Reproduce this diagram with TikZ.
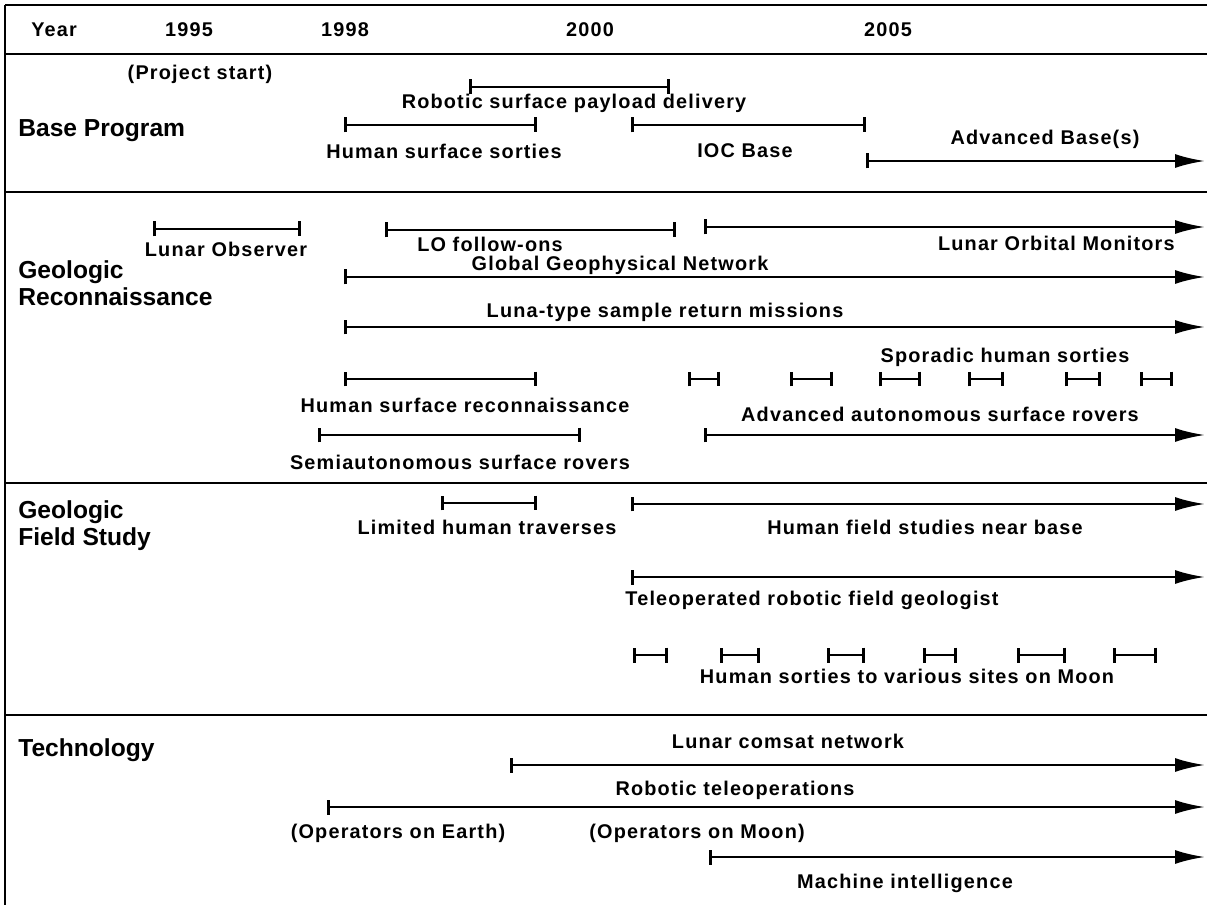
\documentclass[tikz,border=0pt]{standalone}
\usepackage{fontspec}
\setmainfont{Liberation Sans}
\newfontfamily\lblfont{Liberation Sans}[LetterSpace=6]
\newfontfamily\catfont{Liberation Sans}
\usepackage{tikz}
\usetikzlibrary{arrows.meta,positioning}

\begin{document}
\begin{tikzpicture}[x=0.02cm, y=-0.02cm]
    % Styles
    \tikzstyle{rule} = [line width=1.5pt]
    \tikzstyle{span} = [line width=1.5pt, {Bar[width=3mm]}-{Bar[width=3mm]}]
    \tikzstyle{ongoing} = [line width=1.5pt, {Bar[width=3mm]}-{Latex[length=6mm,width=2.8mm]}]
    \tikzstyle{lbl} = [font=\lblfont\bfseries\fontsize{11.3}{13}\selectfont, inner sep=0pt]
    \tikzstyle{cat} = [font=\catfont\bfseries\fontsize{14}{15.3}\selectfont, inner sep=0pt, anchor=west, align=left]
    \useasboundingbox (0,0) rectangle (1207,905);

    % Frame
    \draw[rule] (5,5) -- (1207,5);
    \draw[rule] (5,5) -- (5,905);
    \draw[rule] (5,54) -- (1207,54);
    \draw[rule] (5,192) -- (1207,192);
    \draw[rule] (5,483) -- (1207,483);
    \draw[rule] (5,715) -- (1207,715);

    % Years
    \node[lbl, anchor=west] (year) at (31,30) {Year};
    \node[lbl] (y1995) at (189,30) {1995};
    \node[lbl] (y1998) at (345,30) {1998};
    \node[lbl] (y2000) at (590,30) {2000};
    \node[lbl] (y2005) at (888,30) {2005};

    % Base Program
    \node[cat] (base) at (18,131) {Base Program};
    \node[lbl] (start) at (200,74) {(Project start)};
    \coordinate (rsp1) at (469,87); \coordinate (rsp2) at (670,87);
    \draw[span] (rsp1) -- (rsp2);
    \node[lbl] (rsp) at (574,103) {Robotic surface payload delivery};
    \coordinate (hss1) at (344,125); \coordinate (hss2) at (537,125);
    \draw[span] (hss1) -- (hss2);
    \node[lbl] (hss) at (444,151) {Human surface sorties};
    \coordinate (ioc1) at (631,125); \coordinate (ioc2) at (866,125);
    \draw[span] (ioc1) -- (ioc2);
    \node[lbl] (ioc) at (745,151) {IOC Base};
    \coordinate (adv1) at (866,161); \coordinate (adv2) at (1205,161);
    \draw[ongoing] (adv1) -- (adv2);
    \node[lbl] (adv) at (1045,139) {Advanced Base(s)};

    % Geologic Reconnaissance
    \node[cat] (recon) at (18,283) {Geologic\\Reconnaissance};
    \coordinate (lo1) at (153,229); \coordinate (lo2) at (301,229);
    \draw[span] (lo1) -- (lo2);
    \node[lbl] (lo) at (226,249) {Lunar Observer};
    \coordinate (lof1) at (385,230); \coordinate (lof2) at (676,230);
    \draw[span] (lof1) -- (lof2);
    \node[lbl] (lof) at (490,244) {LO follow-ons};
    \coordinate (lom1) at (704,227); \coordinate (lom2) at (1205,227);
    \draw[ongoing] (lom1) -- (lom2);
    \node[lbl, anchor=east] (lom) at (1175,243) {Lunar Orbital Monitors};
    \coordinate (ggn1) at (344,277); \coordinate (ggn2) at (1205,277);
    \draw[ongoing] (ggn1) -- (ggn2);
    \node[lbl] (ggn) at (620,265) {Global Geophysical Network};
    \coordinate (luna1) at (344,327); \coordinate (luna2) at (1205,327);
    \draw[ongoing] (luna1) -- (luna2);
    \node[lbl] (luna) at (665,312) {Luna-type sample return missions};
    \node[lbl] (sporadic) at (1005,357) {Sporadic human sorties};
    \coordinate (sa1) at (688,379); \coordinate (sa2) at (720,379);
    \coordinate (sb1) at (790,379); \coordinate (sb2) at (833,379);
    \coordinate (sc1) at (879,379); \coordinate (sc2) at (921,379);
    \coordinate (sd1) at (968,379); \coordinate (sd2) at (1004,379);
    \coordinate (se1) at (1065,379); \coordinate (se2) at (1101,379);
    \coordinate (sf1) at (1140,379); \coordinate (sf2) at (1173,379);
    \draw[span] (sa1) -- (sa2);
    \draw[span] (sb1) -- (sb2);
    \draw[span] (sc1) -- (sc2);
    \draw[span] (sd1) -- (sd2);
    \draw[span] (se1) -- (se2);
    \draw[span] (sf1) -- (sf2);
    \coordinate (hsr1) at (344,379); \coordinate (hsr2) at (537,379);
    \draw[span] (hsr1) -- (hsr2);
    \node[lbl] (hsr) at (465,405) {Human surface reconnaissance};
    \node[lbl] (aasr) at (940,414) {Advanced autonomous surface rovers};
    \coordinate (aasr1) at (704,435); \coordinate (aasr2) at (1205,435);
    \draw[ongoing] (aasr1) -- (aasr2);
    \coordinate (semi1) at (318,435); \coordinate (semi2) at (581,435);
    \draw[span] (semi1) -- (semi2);
    \node[lbl] (semi) at (460,462) {Semiautonomous surface rovers};

    % Geologic Field Study
    \node[cat] (field) at (18,526) {Geologic\\Field Study};
    \coordinate (lht1) at (441,503); \coordinate (lht2) at (537,503);
    \draw[span] (lht1) -- (lht2);
    \node[lbl] (lht) at (487,527) {Limited human traverses};
    \coordinate (hfs1) at (631,504); \coordinate (hfs2) at (1205,504);
    \draw[ongoing] (hfs1) -- (hfs2);
    \node[lbl] (hfs) at (925,527) {Human field studies near base};
    \coordinate (trfg1) at (631,577); \coordinate (trfg2) at (1205,577);
    \draw[ongoing] (trfg1) -- (trfg2);
    \node[lbl] (trfg) at (812,600) {Teleoperated robotic field geologist};
    \coordinate (ha1) at (633,655); \coordinate (ha2) at (668,655);
    \coordinate (hb1) at (720,655); \coordinate (hb2) at (760,655);
    \coordinate (hc1) at (827,655); \coordinate (hc2) at (865,655);
    \coordinate (hd1) at (923,655); \coordinate (hd2) at (957,655);
    \coordinate (he1) at (1017,655); \coordinate (he2) at (1066,655);
    \coordinate (hf1) at (1113,655); \coordinate (hf2) at (1157,655);
    \draw[span] (ha1) -- (ha2);
    \draw[span] (hb1) -- (hb2);
    \draw[span] (hc1) -- (hc2);
    \draw[span] (hd1) -- (hd2);
    \draw[span] (he1) -- (he2);
    \draw[span] (hf1) -- (hf2);
    \node[lbl] (sorties) at (907,676) {Human sorties to various sites on Moon};

    % Technology
    \node[cat] (tech) at (18,750) {Technology};
    \node[lbl] (lcn) at (788,741) {Lunar comsat network};
    \coordinate (lcn1) at (510,765); \coordinate (lcn2) at (1205,765);
    \draw[ongoing] (lcn1) -- (lcn2);
    \node[lbl] (rt) at (735,790) {Robotic teleoperations};
    \coordinate (rt1) at (327,807); \coordinate (rt2) at (1205,807);
    \draw[ongoing] (rt1) -- (rt2);
    \node[lbl] (earth) at (398,833) {(Operators on Earth)};
    \node[lbl] (moon) at (697,833) {(Operators on Moon)};
    \coordinate (mi1) at (709,857); \coordinate (mi2) at (1205,857);
    \draw[ongoing] (mi1) -- (mi2);
    \node[lbl] (mi) at (905,883) {Machine intelligence};
\end{tikzpicture}
\end{document}
